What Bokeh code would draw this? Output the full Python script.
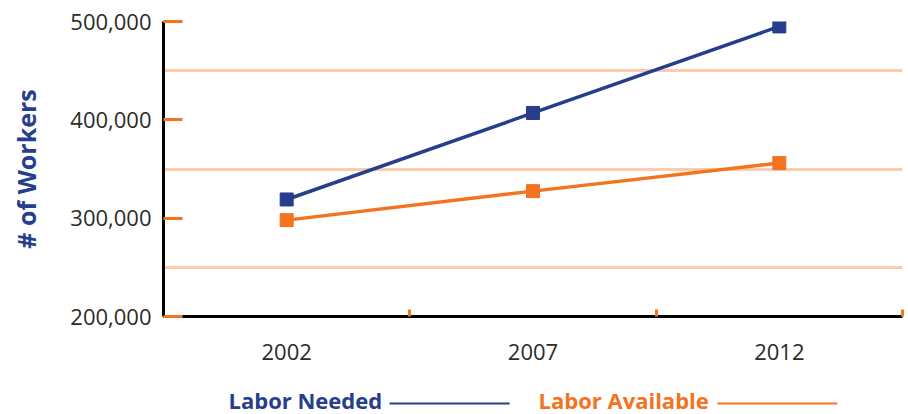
from bokeh.plotting import figure
from bokeh.models import FixedTicker, NumeralTickFormatter, Range1d
from bokeh.layouts import column
from bokeh.core.properties import value
from bokeh.embed import file_html
from bokeh.resources import INLINE

years = ["2002", "2007", "2012"]
labor_needed = [319000, 407000, 495000]
labor_available = [298000, 327500, 356000]
y_ticks = [200000, 300000, 400000, 500000]
grid_values = [250000, 350000, 450000]
series_names = ["Labor Needed", "Labor Available"]

NAVY = "#263e8b"
ORANGE = "#f47321"
PEACH = "#fbcbab"
FONT = "Open Sans"
series_colors = [NAVY, ORANGE]

xs = [i + 0.5 for i in range(len(years))]

W = 904
LEFT, RIGHT = 163, 2
p = figure(width=W, height=372, output_backend="svg", toolbar_location=None,
           x_range=Range1d(0, len(years)), y_range=Range1d(200000, 500000),
           min_border_left=LEFT, min_border_right=RIGHT, min_border_top=21, min_border_bottom=56)
p.outline_line_color = None
p.background_fill_color = "white"
p.border_fill_color = "white"

# grid
p.xgrid.visible = False
p.ygrid.ticker = FixedTicker(ticks=grid_values)
p.ygrid.grid_line_color = PEACH
p.ygrid.grid_line_width = 3

# x axis
p.xaxis.ticker = FixedTicker(ticks=xs, minor_ticks=[float(i) for i in range(1, len(years) + 1)])
p.xaxis.major_label_overrides = {x: y for x, y in zip(xs, years)}
p.xaxis.major_tick_line_color = None
p.xaxis.minor_tick_line_color = ORANGE
p.xaxis.minor_tick_line_width = 3
p.xaxis.minor_tick_in = 7
p.xaxis.minor_tick_out = 0
p.xaxis.axis_line_color = "black"
p.xaxis.axis_line_width = 3
p.xaxis.major_label_standoff = 21
p.xaxis.major_label_text_font = FONT
p.xaxis.major_label_text_font_size = "22px"
p.xaxis.major_label_text_color = "#2b2b2b"

# y axis
p.yaxis.ticker = FixedTicker(ticks=y_ticks)
p.yaxis.formatter = NumeralTickFormatter(format="0,0")
p.yaxis.major_tick_line_color = ORANGE
p.yaxis.major_tick_line_width = 3
p.yaxis.major_tick_in = 19
p.yaxis.major_tick_out = 0
p.yaxis.minor_tick_line_color = None
p.yaxis.axis_line_color = "black"
p.yaxis.axis_line_width = 3
p.yaxis.major_label_standoff = 12
p.yaxis.major_label_text_font = FONT
p.yaxis.major_label_text_font_size = "22px"
p.yaxis.major_label_text_color = "#2b2b2b"
p.yaxis.axis_label = "# of Workers"
p.yaxis.axis_label_text_font = FONT
p.yaxis.axis_label_text_font_style = "bold"
p.yaxis.axis_label_text_font_size = "25px"
p.yaxis.axis_label_text_color = NAVY
p.yaxis.axis_label_standoff = 24

# series
p.line(xs, labor_needed, line_color=NAVY, line_width=3.5)
p.scatter(xs, labor_needed, marker="square", size=13, fill_color=NAVY, line_color=NAVY)
p.line(xs, labor_available, line_color=ORANGE, line_width=3.5)
p.scatter(xs, labor_available, marker="square", size=13, fill_color=ORANGE, line_color=ORANGE)

# legend strip below (its frame is aligned with the main frame by the column layout,
# so its x range is expressed in page pixels across that frame)
LH = 42
q = figure(width=W, height=LH, output_backend="svg", toolbar_location=None,
           x_range=Range1d(LEFT, W - RIGHT), y_range=Range1d(0, LH),
           min_border=0, min_border_left=0, min_border_right=0, min_border_top=0, min_border_bottom=0)
q.axis.visible = False
q.grid.visible = False
q.outline_line_color = None
q.border_fill_color = "white"
legend_text_x = [228, 538]
legend_line_x0 = [389, 717]
legend_line_x1 = [509, 837]
q.text(x=legend_text_x, y=[15, 15], text=series_names, text_color=series_colors,
       text_font=value(FONT), text_font_style="bold", text_font_size="22px",
       text_baseline="middle", text_align="left")
q.segment(x0=legend_line_x0, y0=[11, 11], x1=legend_line_x1, y1=[11, 11],
          line_color=series_colors, line_width=2)

layout = column(p, q, spacing=0)
open("out.html", "w").write(file_html(layout, INLINE))
